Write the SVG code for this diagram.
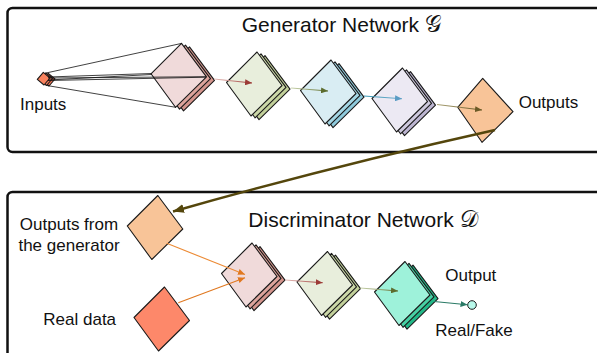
<svg xmlns="http://www.w3.org/2000/svg" xmlns:xlink="http://www.w3.org/1999/xlink" width="597" height="353" viewBox="0 0 597 353">
<style>
.frame{fill:#fff;stroke:#111;stroke-width:2.5}
.lbl{font-family:"Liberation Sans",Arial,sans-serif;font-size:17px;fill:#111}
.ttl{font-family:"Liberation Sans",Arial,sans-serif;font-size:21px;fill:#111}
.math{font-family:"DejaVu Serif","DejaVu Sans","Noto Sans",serif;font-style:normal;font-size:23px}
.d{stroke:#1a1a1a;stroke-width:1.1;stroke-linejoin:round}
.cone{stroke:#111;stroke-width:0.8;fill:none}
.ar{stroke-width:1.1;fill:none}
</style>
<defs>
<path id="dia" d="M3,-32 L28,1.5 L-3,32 L-27.5,-1.5 Z"/>
<linearGradient id="gRed" x1="0" y1="0" x2="1" y2="0"><stop offset="0" stop-color="#e6c0bc"/><stop offset="1" stop-color="#9c3a36"/></linearGradient>
<linearGradient id="gGrn" x1="0" y1="0" x2="1" y2="0"><stop offset="0" stop-color="#ccd6b0"/><stop offset="1" stop-color="#5c6c2e"/></linearGradient>
<linearGradient id="gBlu" x1="0" y1="0" x2="1" y2="0"><stop offset="0" stop-color="#3a98b4"/><stop offset="1" stop-color="#74aed0"/></linearGradient>
<linearGradient id="gOli" x1="0" y1="0" x2="1" y2="0"><stop offset="0" stop-color="#aaa276"/><stop offset="1" stop-color="#6b5a26"/></linearGradient>
<marker id="mRed" markerUnits="userSpaceOnUse" markerWidth="8" markerHeight="6" refX="7" refY="3" orient="auto"><path d="M0,0 L7,3 L0,6 Z" fill="#9c3a36"/></marker>
<marker id="mGrn" markerUnits="userSpaceOnUse" markerWidth="8" markerHeight="6" refX="7" refY="3" orient="auto"><path d="M0,0 L7,3 L0,6 Z" fill="#5c6c2e"/></marker>
<marker id="mBlu" markerUnits="userSpaceOnUse" markerWidth="8" markerHeight="6" refX="7" refY="3" orient="auto"><path d="M0,0 L7,3 L0,6 Z" fill="#5a9cc4"/></marker>
<marker id="mOli" markerUnits="userSpaceOnUse" markerWidth="8" markerHeight="6" refX="7" refY="3" orient="auto"><path d="M0,0 L7,3 L0,6 Z" fill="#6b5a26"/></marker>
<marker id="mOra" markerUnits="userSpaceOnUse" markerWidth="8" markerHeight="6" refX="7" refY="3" orient="auto"><path d="M0,0 L7,3 L0,6 Z" fill="#e07820"/></marker>
<marker id="mTea" markerUnits="userSpaceOnUse" markerWidth="8" markerHeight="6" refX="7" refY="3" orient="auto"><path d="M0,0 L7,3 L0,6 Z" fill="#2a7a66"/></marker>
<marker id="mBig" markerUnits="userSpaceOnUse" markerWidth="12" markerHeight="9" refX="11" refY="4.5" orient="auto"><path d="M0,0 L11,4.5 L0,9 Z" fill="#54460c"/></marker>
</defs>

<rect width="597" height="353" fill="#fff"/>

<g id="generator-frame">
<rect class="frame" x="7.5" y="8" width="620" height="144" rx="5"/>
<text class="ttl" x="241.7" y="32.3">Generator Network <tspan class="math">𝒢</tspan></text>
</g>
<g id="discriminator-frame">
<rect class="frame" x="7.5" y="192" width="620" height="200" rx="5"/>
<text class="ttl" x="248.3" y="226.7">Discriminator Network <tspan class="math">𝒟</tspan></text>
</g>

<g id="inputs">
<polygon class="d" points="48.3,73.3 55,79 49,86 42.3,80.3" fill="#f07050"/>
<polygon class="d" points="45.8,72.8 52.5,78.5 46.5,85.5 39.8,79.8" fill="#f47a5a"/>
<polygon class="d" points="43.3,72.3 50,78 44,85 37.3,79.3" fill="#f8825e"/>
<text class="lbl" x="20" y="110">Inputs</text>
</g>

<g id="g-layer1" transform="translate(178.5,75.3)">
<use href="#dia" class="d" x="8" y="3.6" fill="#d3948c"/>
<use href="#dia" class="d" x="4" y="1.8" fill="#dca49c"/>
<use href="#dia" class="d" fill="#f0dada"/>
</g>
<g id="g-layer2" transform="translate(254,84)">
<use href="#dia" class="d" x="8" y="3.6" fill="#c2d09a"/>
<use href="#dia" class="d" x="4" y="1.8" fill="#ccd8a8"/>
<use href="#dia" class="d" fill="#e8eedc"/>
</g>
<g id="g-layer3" transform="translate(328,92)">
<use href="#dia" class="d" x="8" y="3.6" fill="#8ecadc"/>
<use href="#dia" class="d" x="4" y="1.8" fill="#a4d6e4"/>
<use href="#dia" class="d" fill="#d9edf3"/>
</g>
<g id="g-layer4" transform="translate(399.5,100)">
<use href="#dia" class="d" x="8" y="3.6" fill="#bdb6d2"/>
<use href="#dia" class="d" x="4" y="1.8" fill="#cdc8dd"/>
<use href="#dia" class="d" fill="#ece9f3"/>
</g>
<g id="g-outputs">
<polygon class="d" points="482.7,78.3 513,111.7 482,142.3 457.7,107.3" fill="#f8c498"/>
<text class="lbl" x="518.7" y="108.3">Outputs</text>
</g>

<g id="d-fake">
<use href="#dia" class="d" x="154.8" y="227.5" fill="#f8c498"/>
<text class="lbl" text-anchor="middle"><tspan x="69" y="230">Outputs from</tspan><tspan x="69" y="250.7">the generator</tspan></text>
</g>
<g id="d-real">
<use href="#dia" class="d" x="161.5" y="319" fill="#fd886a"/>
<text class="lbl" x="43.3" y="325">Real data</text>
</g>
<g id="d-layer1" transform="translate(249,275)">
<use href="#dia" class="d" x="8" y="3.6" fill="#d3948c"/>
<use href="#dia" class="d" x="4" y="1.8" fill="#dca49c"/>
<use href="#dia" class="d" fill="#f0dada"/>
</g>
<g id="d-layer2" transform="translate(324.5,283.5)">
<use href="#dia" class="d" x="8" y="3.6" fill="#c2d09a"/>
<use href="#dia" class="d" x="4" y="1.8" fill="#ccd8a8"/>
<use href="#dia" class="d" fill="#e8eedc"/>
</g>
<g id="d-layer3" transform="translate(402,293.5)">
<use href="#dia" class="d" x="8" y="3.6" fill="#22b888"/>
<use href="#dia" class="d" x="4" y="1.8" fill="#48d0a4"/>
<use href="#dia" class="d" fill="#9ef2da"/>
</g>
<g id="d-output">
<circle cx="472" cy="305" r="4.3" fill="#b8f8ea" stroke="#1a1a1a" stroke-width="1"/>
<text class="lbl" x="445.3" y="280.7">Output</text>
<text class="lbl" x="435.3" y="335.7">Real/Fake</text>
</g>

<g id="connectors">
<g id="input-cone">
<line class="cone" x1="46" y1="73" x2="182" y2="43.3"/>
<line class="cone" x1="47" y1="85.5" x2="175.7" y2="107.3"/>
<line class="cone" x1="48" y1="77" x2="151.7" y2="73.5"/>
<line class="cone" x1="48" y1="80" x2="151.7" y2="74.5"/>
<line class="cone" x1="48" y1="78" x2="206" y2="76.7"/>
<line class="cone" x1="48" y1="80.5" x2="206" y2="77.2"/>
</g>
<line class="ar" x1="214" y1="79" x2="252" y2="83" stroke="url(#gRed)" marker-end="url(#mRed)"/>
<line class="ar" x1="291" y1="88" x2="328" y2="91" stroke="url(#gGrn)" marker-end="url(#mGrn)"/>
<line class="ar" x1="364" y1="96" x2="402" y2="98.7" stroke="url(#gBlu)" marker-end="url(#mBlu)"/>
<line class="ar" x1="437" y1="104.5" x2="482" y2="110" stroke="url(#gOli)" marker-end="url(#mOli)"/>
<line class="ar" x1="166.7" y1="243.3" x2="245" y2="274.5" stroke="#ec8a34" marker-end="url(#mOra)"/>
<line class="ar" x1="178.3" y1="302.7" x2="245" y2="277.7" stroke="#e07820" marker-end="url(#mOra)"/>
<line class="ar" x1="285" y1="280" x2="322.7" y2="282.7" stroke="url(#gRed)" marker-end="url(#mRed)"/>
<line class="ar" x1="360" y1="288" x2="398" y2="291" stroke="url(#gGrn)" marker-end="url(#mGrn)"/>
<line class="ar" x1="434" y1="301.5" x2="467.5" y2="304.7" stroke="#2a7a66" marker-end="url(#mTea)"/>
<path id="big-connector" d="M495,130 Q333,166 173,211.5" fill="none" stroke="#54460c" stroke-width="2.4" marker-end="url(#mBig)"/>
</g>
</svg>
